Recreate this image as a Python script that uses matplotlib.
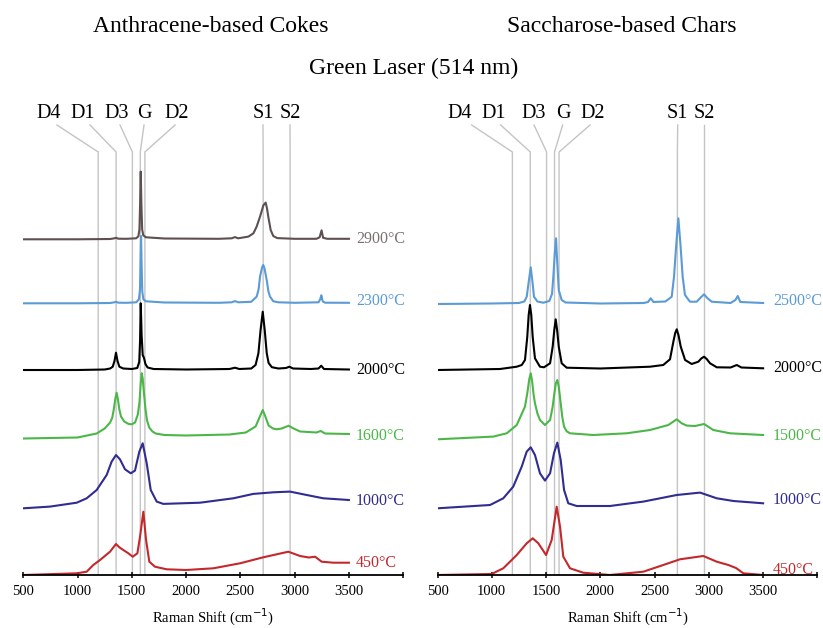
import matplotlib
matplotlib.use("Agg")
import matplotlib.pyplot as plt
from matplotlib.ticker import FixedLocator, FixedFormatter

plt.rcParams['font.family'] = ['Liberation Serif', 'DejaVu Serif']

# ---------------- data (Raman shift in cm-1, intensity in a.u. above each curve's offset) ----------------
peak_names = ["D4", "D1", "D3", "G", "D2", "S1", "S2"]
peak_pos = [1190, 1355, 1505, 1578, 1620, 2710, 2958]
label_pos_left = [737, 1050, 1363, 1612, 1916, 2708, 2957]
label_pos_right = [701, 1014, 1389, 1659, 1930, 2713, 2958]
diag_top_left = [810, 1115, 1391, 1612, 1898, 2708, 2957]
diag_top_right = [815, 1082, 1389, 1653, 1905, 2713, 2958]

# Anthracene-based cokes
ac_temps = ["2900°C", "2300°C", "2000°C", "1600°C", "1000°C", "450°C"]
ac_offsets = [335.7, 271.7, 205.0, 136.5, 66.7, 0.0]

ac2900_x = [500, 1000, 1300, 1340, 1355, 1375, 1450, 1540, 1560, 1570, 1576, 1582, 1588, 1595, 1605, 1630,
            1800, 2300, 2420, 2450, 2480, 2574, 2620, 2650, 2681, 2712, 2733, 2745, 2757, 2779, 2803, 2840,
            3000, 3200, 3230, 3248, 3262, 3300, 3500]
ac2900_y = [0, 0, 0.3, 1, 1.5, 0.6, 0.5, 1, 3, 10, 35, 67.7, 35, 10, 4, 2,
            0.8, 0.5, 1, 2.2, 1, 2.7, 6, 12.7, 22.7, 34, 36.7, 31, 22.7, 9.3, 3.3, 1.2,
            0.5, 0.5, 2, 9, 1.5, 0.5, 0.5]

ac2300_x = [500, 1000, 1300, 1340, 1355, 1375, 1450, 1540, 1565, 1575, 1580, 1585, 1590, 1596, 1606, 1630,
            1800, 2300, 2420, 2450, 2480, 2600, 2650, 2668, 2681, 2700, 2711, 2722, 2743, 2758, 2773, 2803,
            2850, 3000, 3220, 3235, 3246, 3258, 3280, 3500]
ac2300_y = [0, 0, 0.3, 1, 1.5, 0.6, 0.5, 1, 4, 14, 40, 67.3, 40, 12, 4, 2,
            0.8, 0.5, 1, 2.2, 1, 1.5, 6.7, 14, 26.7, 36, 38.3, 35, 23, 12, 6.7, 2,
            1, 0.5, 1, 4, 8, 2, 0.6, 0.5]

ac2000_x = [500, 1000, 1250, 1300, 1324, 1340, 1354, 1368, 1385, 1420, 1500, 1550, 1568, 1576, 1582, 1590,
            1600, 1612, 1625, 1645, 1700, 2000, 2400, 2450, 2490, 2600, 2640, 2666, 2686, 2706, 2724, 2743,
            2760, 2790, 2850, 2920, 2951, 2985, 3150, 3220, 3245, 3270, 3500]
ac2000_y = [0, 0, 0.5, 1.5, 3.3, 9, 17.3, 9, 3.3, 1.5, 1, 2, 8, 30, 66.7, 35,
            15, 12, 6, 2.5, 1, 0.5, 1, 2.3, 1, 1.5, 5, 16.7, 40, 58.3, 40, 16.7,
            7, 2.8, 1.5, 2, 3.3, 1.5, 1, 1.5, 4.3, 1, 0.5]

ac1600_x = [500, 1000, 1176, 1250, 1300, 1320, 1335, 1348, 1360, 1372, 1385, 1400, 1430, 1470, 1500, 1530,
            1555, 1570, 1582, 1591, 1600, 1612, 1625, 1640, 1660, 1690, 1720, 1800, 2000, 2400, 2550, 2640,
            2680, 2706, 2730, 2760, 2800, 2834, 2880, 2945, 2990, 3050, 3200, 3240, 3280, 3500]
ac1600_y = [0, 1, 5, 10, 16, 21, 30, 40, 45.8, 39, 29, 22, 17, 14.5, 14.2, 16,
            24, 36, 55, 65.2, 60, 45, 30, 18, 11, 7, 5, 3.5, 3, 4, 6, 12,
            22, 28.5, 22, 13, 10, 9.2, 10, 12.8, 10, 7, 6, 7.5, 5, 4.5]

ac1000_x = [500, 746, 992, 1084, 1176, 1268, 1314, 1354, 1391, 1437, 1490, 1529, 1569, 1600, 1637, 1674,
            1729, 1790, 2128, 2435, 2619, 2804, 2957, 3111, 3264, 3500]
ac1000_y = [0, 1.7, 5.6, 10, 18.3, 33.3, 46.7, 53.3, 48.9, 39, 35, 37.7, 56.7, 65, 45, 18.3,
            6.7, 4.4, 5.6, 10, 14.4, 16, 16.7, 13.3, 10, 8.3]

ac450_x = [500, 992, 1084, 1145, 1207, 1299, 1354, 1385, 1421, 1468, 1508, 1551, 1575, 1606, 1631, 1661,
           1713, 1821, 2000, 2251, 2497, 2711, 2942, 3050, 3130, 3188, 3249, 3357, 3500]
ac450_y = [0, 1.7, 3.3, 10, 15, 23.3, 31, 27.7, 25, 21.7, 18.3, 21.7, 38, 63.3, 35, 13.3,
           8.3, 5.7, 5, 6.7, 11.7, 17.7, 23.3, 19, 17.5, 18.3, 13.3, 12.3, 12.3]

# Saccharose-based chars
sc_temps = ["2500°C", "2000°C", "1500°C", "1000°C", "450°C"]
sc_offsets = [271.0, 205.0, 135.7, 66.7, 0.0]

sc2500_x = [500, 1000, 1250, 1300, 1322, 1340, 1359, 1375, 1389, 1420, 1475, 1530, 1555, 1567, 1580, 1592,
            1604, 1617, 1644, 1680, 2000, 2400, 2440, 2464, 2490, 2600, 2658, 2679, 2700, 2719, 2738, 2759,
            2780, 2826, 2888, 2930, 2956, 2985, 3026, 3200, 3245, 3266, 3290, 3500]
sc2500_y = [0, 0.5, 1, 2.5, 7.3, 22, 36.7, 22, 7.3, 2.5, 1.3, 3, 10, 27, 50, 65.7,
            40, 14, 4, 1.5, 0.5, 1, 2, 5.7, 2, 2.5, 7.3, 27.3, 60, 85.7, 60, 27,
            9, 2.3, 2.3, 7, 9.7, 6, 2.3, 1, 4, 8, 2, 1]

sc2000_x = [500, 1076, 1230, 1276, 1306, 1327, 1340, 1352, 1364, 1377, 1398, 1444, 1481, 1537, 1561, 1576,
            1589, 1602, 1617, 1644, 1690, 2000, 2458, 2580, 2642, 2673, 2690, 2704, 2720, 2741, 2781, 2842,
            2903, 2930, 2956, 2980, 3011, 3073, 3200, 3257, 3300, 3500]
sc2000_y = [0, 1, 3.3, 5, 10, 33, 55, 65, 55, 33, 11.7, 3.3, 2.7, 6.7, 23.3, 40,
            50.7, 40, 23.3, 6.7, 2.3, 1.5, 3.3, 5, 10.7, 28.3, 37, 40.7, 35, 23.3, 10, 6,
            8.3, 11.5, 13.3, 11, 6.7, 2.7, 2.5, 5, 2.5, 1.7]

sc1500_x = [500, 1014, 1138, 1230, 1306, 1330, 1345, 1359, 1372, 1385, 1398, 1420, 1444, 1490, 1537, 1560,
            1573, 1590, 1604, 1618, 1635, 1650, 1666, 1690, 1721, 1936, 2243, 2458, 2627, 2704, 2750, 2796,
            2873, 2956, 3041, 3195, 3500]
sc1500_y = [0, 2.7, 6, 14.3, 32.7, 48, 60, 66, 58, 45, 36, 26, 19.3, 14.3, 19.3, 32,
            42.7, 56, 59.3, 52, 36, 22, 12.7, 8, 6, 4.3, 6, 9.3, 14.3, 20, 16, 13.7,
            13.3, 15.3, 9.3, 6, 4.3]

sc1000_x = [500, 984, 1106, 1198, 1276, 1322, 1359, 1398, 1444, 1490, 1537, 1573, 1604, 1635, 1666, 1705,
            1782, 2089, 2396, 2704, 2919, 3073, 3226, 3500]
sc1000_y = [0, 3.3, 10, 21.7, 41.7, 56.7, 61, 53.3, 35, 27.7, 35, 55, 65.7, 48.3, 18.3, 5,
            2.3, 2.3, 6.7, 13.3, 15.7, 10, 7.3, 5]

sc450_x = [500, 999, 1106, 1230, 1322, 1377, 1429, 1500, 1552, 1598, 1629, 1659, 1721, 1843, 2089, 2396,
           2580, 2734, 2949, 3073, 3180, 3250, 3318, 3500]
sc450_y = [0, 1, 6.7, 20, 31.7, 36.7, 31.7, 20, 35, 68.3, 48.3, 18.3, 6.7, 2.3, 0, 3.3,
           10, 15.7, 19, 13.3, 10, 7, 1.7, 0]

colors_ac = ["#5e5050", "#5b9bd5", "#000000", "#4cb748", "#302c91", "#c3282d"]
label_colors_ac = ["#7a7070", "#5b9bd5", "#000000", "#4cb748", "#302c91", "#c3282d"]
colors_sc = ["#5b9bd5", "#000000", "#4cb748", "#302c91", "#c3282d"]

ac_series = [(ac2900_x, ac2900_y), (ac2300_x, ac2300_y), (ac2000_x, ac2000_y),
             (ac1600_x, ac1600_y), (ac1000_x, ac1000_y), (ac450_x, ac450_y)]
sc_series = [(sc2500_x, sc2500_y), (sc2000_x, sc2000_y), (sc1500_x, sc1500_y),
             (sc1000_x, sc1000_y), (sc450_x, sc450_y)]

# ---------------- figure ----------------
W, H = 823, 628
fig = plt.figure(figsize=(W / 100, H / 100), dpi=100)

ax_w = 379.9 / W
ax_b = 1 - 575 / H
ax_h = 475 / H
axL = fig.add_axes([23.3 / W, ax_b, ax_w, ax_h])
axR = fig.add_axes([437.5 / W, ax_b, ax_w, ax_h])

LINE_TOP = 423
DIAG_TOP = 450
LABEL_Y = 462


def draw_panel(ax, series, offsets, temps, colors, lcolors, label_pos, diag_top, label_x, label_dy):
    ax.set_xlim(500, 4000)
    ax.set_ylim(0, 475)
    for s in ["left", "top", "right"]:
        ax.spines[s].set_visible(False)
    ax.spines["bottom"].set_linewidth(1.3)
    ax.set_yticks([])
    ticks = [500, 1000, 1500, 2000, 2500, 3000, 3500, 4000]
    ax.xaxis.set_major_locator(FixedLocator(ticks))
    ax.xaxis.set_major_formatter(FixedFormatter([str(t) for t in ticks[:-1]] + [""]))
    ax.tick_params(axis="x", direction="inout", length=5, width=1.1, labelsize=10.5, pad=5)
    ax.set_xlabel("Raman Shift (cm$^{-1}$)", fontsize=10.5, labelpad=6)

    # reference peak lines
    for pos, lp, dt, name in zip(peak_pos, label_pos, diag_top, peak_names):
        ax.plot([pos, pos, dt], [0, LINE_TOP, DIAG_TOP], color="#c4c4c4", lw=1.0, zorder=1,
                clip_on=False, solid_joinstyle="miter")
        ax.text(lp, LABEL_Y, name, ha="center", va="center", fontsize=14.5, zorder=3, clip_on=False)

    # spectra
    for (xs, ys), off, t, c, lc, dy in zip(series, offsets, temps, colors, lcolors, label_dy):
        ax.plot(xs, [v + off for v in ys], color=c, lw=1.5, zorder=2, solid_joinstyle="round")
        ax.text(label_x, off + ys[-1] + dy, t, color=lc, fontsize=11.5, ha="left", va="center")


draw_panel(axL, ac_series, ac_offsets, ac_temps, colors_ac, label_colors_ac,
           label_pos_left, diag_top_left, 3565, [0, 2, 0, -2, -1, 0])
draw_panel(axR, sc_series, sc_offsets, sc_temps, colors_sc, colors_sc,
           label_pos_right, diag_top_right, 3590, [2, 0, -1, 3, 5])

fig.text(211 / W, 1 - 27 / H, "Anthracene-based Cokes", ha="center", va="center", fontsize=17)
fig.text(622 / W, 1 - 27 / H, "Saccharose-based Chars", ha="center", va="center", fontsize=17)
fig.text(414 / W, 1 - 68 / H, "Green Laser (514 nm)", ha="center", va="center", fontsize=17)

fig.savefig("out.png", dpi=100)
